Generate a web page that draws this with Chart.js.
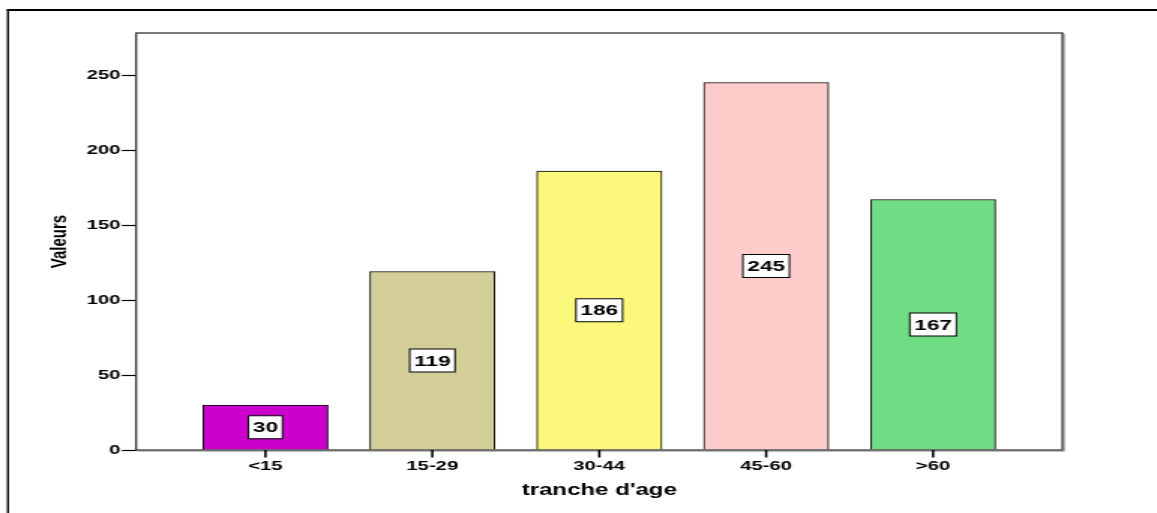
<!DOCTYPE html>
<html>
<head>
<meta charset="utf-8">
<script src="https://cdn.jsdelivr.net/npm/chart.js@4"></script>
<style>
  html, body { margin: 0; padding: 0; background: #fff; overflow: hidden; }
  #wrap { width: 771px; height: 513px; transform: scaleX(1.5006); transform-origin: 0 0; }
</style>
</head>
<body>
<div id="wrap"><canvas id="c" width="771" height="513"></canvas></div>
<script>
// Age groups and counts
const categories = ['<15', '15-29', '30-44', '45-60', '>60'];
const values = [30, 119, 186, 245, 167];
const barColors = ['#CC00CC', '#D4CF99', '#FBF87C', '#FFCCCC', '#70DD85'];
const yTicks = [0, 50, 100, 150, 200, 250];

const FONT = "'Liberation Sans', Arial, sans-serif";

// Outer frame (left and top edges), plot-area box with a soft shadow
const framePlugin = {
  id: 'frame',
  beforeDraw(chart) {
    const ctx = chart.ctx;
    ctx.save();
    ctx.fillStyle = '#fff';
    ctx.fillRect(0, 0, chart.width, chart.height);
    ctx.strokeStyle = '#000';
    ctx.lineWidth = 2;
    ctx.beginPath();
    ctx.moveTo(4.6, 10);
    ctx.lineTo(chart.width, 10);
    ctx.stroke();
    ctx.lineWidth = 1.4;
    ctx.beginPath();
    ctx.moveTo(5.3, 9);
    ctx.lineTo(5.3, chart.height);
    ctx.stroke();
    ctx.restore();
  },
  afterDraw(chart) {
    const {ctx, chartArea: a} = chart;
    ctx.save();
    ctx.strokeStyle = '#aaa';
    ctx.lineWidth = 1;
    ctx.beginPath();
    ctx.moveTo(a.right + 1.3, a.top + 1);
    ctx.lineTo(a.right + 1.3, a.bottom + 1.3);
    ctx.lineTo(a.left + 1, a.bottom + 1.3);
    ctx.stroke();
    ctx.strokeStyle = '#333';
    ctx.lineWidth = 1.3;
    ctx.strokeRect(a.left, a.top, a.right - a.left, a.bottom - a.top);
    // category tick marks under the axis, one per bar
    ctx.strokeStyle = '#000';
    ctx.lineWidth = 1.6;
    chart.getDatasetMeta(0).data.forEach(bar => {
      ctx.beginPath();
      ctx.moveTo(bar.x, a.bottom);
      ctx.lineTo(bar.x, a.bottom + 7.5);
      ctx.stroke();
    });
    ctx.restore();
  }
};

// Boxed value labels centred in each bar
const valueLabels = {
  id: 'valueLabels',
  afterDatasetsDraw(chart) {
    const ctx = chart.ctx;
    const meta = chart.getDatasetMeta(0);
    ctx.save();
    ctx.font = 'bold 15px ' + FONT;
    ctx.textAlign = 'center';
    ctx.textBaseline = 'middle';
    meta.data.forEach((bar, i) => {
      const text = String(values[i]);
      const cx = bar.x;
      const cy = (bar.y + bar.base) / 2;
      const w = ctx.measureText(text).width + 6;
      const h = 23;
      ctx.fillStyle = '#fff';
      ctx.fillRect(cx - w / 2, cy - h / 2, w, h);
      ctx.strokeStyle = '#000';
      ctx.lineWidth = 1;
      ctx.strokeRect(cx - w / 2, cy - h / 2, w, h);
      ctx.fillStyle = '#000';
      ctx.fillText(text, cx, cy + 1);
    });
    ctx.restore();
  }
};

new Chart(document.getElementById('c'), {
  type: 'bar',
  data: {
    datasets: [{
      data: values.map((v, i) => ({x: i, y: v})),
      backgroundColor: barColors,
      borderColor: '#000',
      borderWidth: 1,
      barThickness: 83.3
    }]
  },
  options: {
    responsive: false,
    devicePixelRatio: 1,
    animation: false,
    layout: { padding: { top: 33, right: 63, left: 0, bottom: 0 } },
    plugins: { legend: { display: false }, tooltip: { enabled: false } },
    scales: {
      x: {
        type: 'linear',
        offset: false,
        min: -0.775,
        max: 4.775,
        afterBuildTicks(scale) { scale.ticks = categories.map((_, i) => ({value: i})); },
        afterFit(scale) { scale.height = 63; },
        ticks: {
          callback: (v) => categories[v],
          color: '#000',
          font: { family: FONT, size: 13.5, weight: 'bold' },
          padding: 1,
          maxRotation: 0,
          autoSkip: false
        },
        grid: { display: false, offset: false, drawOnChartArea: false, drawTicks: true, tickLength: 7 },
        border: { display: false },
        title: {
          display: true,
          text: "tranche d'age",
          color: '#000',
          font: { family: FONT, size: 16, weight: 'bold' },
          padding: { top: 0, bottom: 12.4 }
        }
      },
      y: {
        min: 0,
        max: 278,
        afterBuildTicks(scale) { scale.ticks = yTicks.map(v => ({value: v})); },
        afterFit(scale) { scale.width = 90.7; },
        ticks: {
          color: '#000',
          font: { family: FONT, size: 13.5, weight: 'bold' },
          padding: 1
        },
        grid: { drawOnChartArea: false, drawTicks: true, tickLength: 9.5, tickColor: '#000', tickWidth: 1.2 },
        border: { display: false },
        title: {
          display: true,
          text: 'Valeurs',
          color: '#000',
          font: { family: FONT, size: 15, weight: 'bold' },
          padding: { top: 30.4, bottom: 0 }
        }
      }
    }
  },
  plugins: [framePlugin, valueLabels]
});
</script>
</body>
</html>
